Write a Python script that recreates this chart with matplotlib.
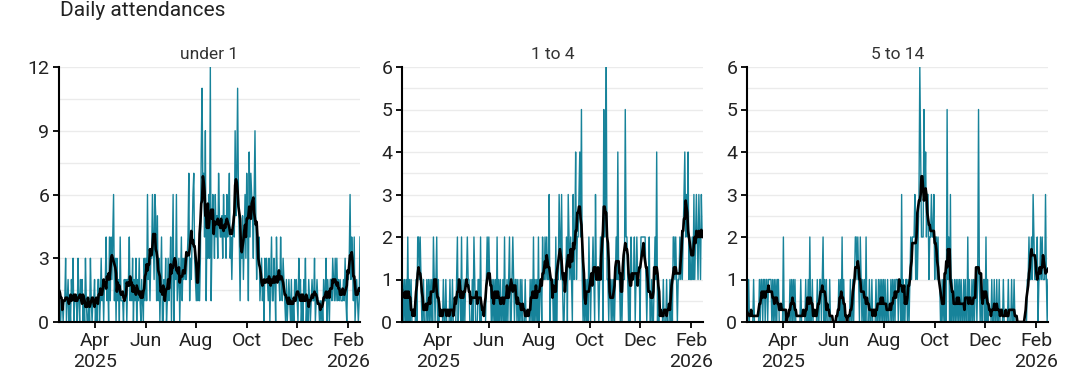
import matplotlib
matplotlib.use("Agg")
import matplotlib.pyplot as plt
import matplotlib.dates as mdates
from matplotlib.ticker import MultipleLocator, FuncFormatter
import pandas as pd

plt.rcParams["font.family"] = ["Roboto", "DejaVu Sans"]

start_date = "2025-02-16"
end_date = "2026-02-15"

# daily attendances, four weeks per row from 16 Feb 2025
under_1 = [
    5, 0, 0, 1, 1, 0, 1, 1, 3, 0, 1, 2, 0, 1, 0, 2, 1, 3, 0, 1, 1, 1, 0, 3, 1, 0, 2, 1,
    2, 0, 1, 0, 3, 1, 0, 0, 1, 0, 3, 1, 0, 1, 1, 2, 0, 1, 0, 2, 2, 0, 1, 3, 1, 2, 0, 2,
    2, 4, 1, 2, 0, 4, 1, 4, 2, 4, 6, 1, 3, 0, 3, 1, 2, 0, 4, 1, 1, 1, 0, 2, 1, 2, 0, 2,
    2, 4, 1, 2, 1, 3, 0, 2, 1, 3, 0, 2, 1, 3, 1, 0, 2, 1, 0, 3, 1, 3, 1, 6, 2, 3, 1, 3,
    3, 6, 4, 2, 6, 5, 1, 5, 1, 3, 0, 2, 4, 0, 0, 2, 1, 3, 0, 1, 3, 1, 2, 4, 0, 3, 6, 0,
    3, 2, 6, 1, 2, 3, 0, 2, 4, 1, 3, 2, 3, 2, 2, 3, 4, 7, 1, 3, 2, 4, 6, 7, 3, 2, 1, 2,
    1, 3, 1, 3, 8, 11, 6, 7, 4, 9, 1, 5, 3, 6, 3, 12, 1, 4, 6, 5, 3, 6, 4, 5, 3, 7, 5, 4,
    4, 5, 3, 6, 4, 5, 3, 6, 4, 5, 7, 3, 4, 2, 4, 5, 4, 9, 5, 7, 11, 6, 4, 1, 4, 3, 5, 2,
    4, 6, 3, 7, 5, 1, 8, 4, 7, 6, 5, 3, 6, 9, 5, 2, 4, 3, 4, 1, 2, 3, 1, 2, 0, 3, 2, 3,
    2, 1, 3, 0, 2, 4, 1, 1, 3, 2, 0, 4, 2, 2, 2, 1, 4, 2, 1, 3, 2, 1, 0, 2, 0, 1, 2, 1,
    0, 2, 0, 1, 0, 2, 1, 2, 1, 0, 3, 1, 2, 0, 1, 0, 2, 1, 3, 0, 1, 0, 2, 1, 0, 1, 2, 1,
    1, 3, 0, 1, 2, 1, 1, 0, 1, 0, 1, 0, 2, 1, 1, 3, 0, 2, 1, 0, 2, 2, 1, 3, 2, 1, 3, 1,
    3, 1, 2, 1, 2, 1, 1, 1, 2, 1, 3, 1, 0, 2, 2, 3, 6, 2, 4, 3, 1, 4, 0, 1, 2, 1, 0, 1,
    4,
]

age_1_4 = [
    1, 1, 0, 1, 0, 1, 0, 2, 0, 1, 0, 1, 0, 0, 0, 0, 0, 1, 0, 2, 2, 1, 2, 1, 0, 0, 1, 0,
    0, 0, 1, 0, 1, 0, 1, 0, 1, 0, 2, 1, 0, 1, 2, 0, 1, 0, 0, 0, 0, 0, 1, 0, 0, 1, 0, 0,
    0, 0, 1, 0, 0, 1, 0, 0, 0, 0, 1, 2, 0, 1, 1, 0, 2, 0, 0, 1, 0, 1, 1, 2, 1, 1, 0, 0,
    0, 1, 0, 2, 1, 0, 0, 0, 1, 1, 0, 2, 0, 0, 0, 0, 0, 0, 1, 2, 1, 2, 1, 1, 0, 1, 0, 1,
    0, 1, 0, 2, 0, 1, 0, 1, 0, 0, 1, 0, 2, 0, 0, 1, 0, 1, 2, 0, 0, 1, 2, 1, 0, 1, 1, 0,
    1, 0, 0, 1, 0, 1, 0, 0, 0, 1, 0, 0, 0, 0, 0, 1, 0, 1, 0, 2, 0, 1, 0, 1, 0, 2, 0, 1,
    1, 0, 2, 1, 1, 2, 1, 2, 1, 1, 3, 0, 1, 1, 1, 0, 1, 0, 2, 0, 1, 1, 3, 2, 1, 3, 1, 0,
    0, 1, 1, 2, 0, 3, 2, 1, 2, 1, 0, 3, 1, 2, 4, 1, 2, 2, 3, 4, 2, 5, 1, 0, 1, 0, 1, 0,
    1, 0, 2, 1, 0, 1, 1, 2, 1, 0, 3, 1, 1, 1, 0, 1, 2, 1, 2, 0, 5, 2, 3, 6, 1, 1, 0, 1,
    1, 0, 1, 0, 1, 0, 1, 2, 1, 4, 1, 1, 0, 1, 0, 1, 1, 1, 5, 2, 2, 1, 0, 1, 0, 2, 1, 1,
    1, 2, 0, 1, 2, 1, 1, 1, 0, 2, 2, 2, 2, 2, 2, 1, 0, 1, 1, 2, 0, 0, 1, 0, 0, 1, 2, 1,
    4, 0, 1, 0, 0, 0, 0, 0, 1, 0, 0, 0, 1, 0, 0, 0, 1, 0, 1, 0, 2, 2, 1, 2, 1, 0, 1, 1,
    2, 1, 2, 1, 2, 3, 4, 2, 3, 2, 4, 1, 2, 1, 1, 2, 1, 3, 1, 2, 3, 2, 1, 3, 2, 1, 3, 2,
    2,
]

age_5_14 = [
    0, 0, 1, 0, 0, 0, 0, 0, 1, 0, 0, 0, 0, 0, 0, 1, 0, 1, 1, 0, 1, 1, 0, 1, 1, 0, 1, 1,
    1, 1, 0, 1, 0, 1, 0, 1, 0, 1, 1, 0, 0, 0, 0, 0, 2, 0, 0, 0, 0, 0, 0, 0, 1, 0, 1, 0,
    1, 0, 1, 0, 0, 0, 0, 0, 0, 1, 0, 0, 0, 0, 0, 1, 0, 0, 1, 0, 2, 0, 0, 1, 0, 0, 0, 0,
    0, 1, 0, 0, 1, 1, 0, 1, 2, 0, 1, 0, 1, 0, 0, 0, 1, 0, 0, 0, 0, 0, 0, 0, 0, 0, 0, 1,
    0, 1, 0, 2, 0, 1, 0, 0, 0, 0, 0, 0, 0, 1, 0, 0, 1, 0, 1, 2, 2, 1, 2, 1, 0, 2, 1, 0,
    1, 0, 1, 0, 2, 0, 0, 0, 1, 0, 0, 1, 0, 0, 0, 0, 1, 0, 0, 1, 0, 1, 0, 1, 0, 1, 0, 1,
    0, 0, 1, 0, 0, 0, 1, 0, 1, 0, 1, 0, 1, 1, 1, 0, 1, 1, 0, 3, 0, 1, 0, 0, 1, 1, 0, 1,
    0, 1, 2, 1, 2, 2, 2, 3, 1, 2, 1, 2, 3, 6, 4, 2, 2, 2, 5, 3, 4, 2, 3, 3, 1, 2, 2, 3,
    2, 2, 3, 1, 2, 2, 1, 2, 1, 1, 0, 0, 1, 0, 1, 0, 1, 0, 5, 1, 2, 0, 3, 0, 1, 0, 0, 1,
    0, 1, 0, 1, 0, 1, 0, 1, 0, 0, 1, 0, 1, 0, 0, 2, 0, 1, 0, 0, 1, 0, 1, 0, 1, 1, 0, 1,
    5, 1, 0, 1, 0, 0, 1, 1, 0, 2, 0, 1, 0, 0, 0, 0, 1, 0, 0, 1, 0, 0, 1, 0, 0, 1, 0, 0,
    0, 0, 1, 0, 0, 0, 0, 0, 1, 0, 0, 0, 1, 0, 0, 1, 0, 0, 0, 0, 0, 0, 0, 0, 0, 0, 0, 0,
    0, 0, 0, 1, 1, 2, 1, 1, 2, 1, 3, 2, 1, 1, 1, 2, 0, 1, 1, 2, 1, 2, 1, 1, 1, 3, 1, 0,
    1,
]

panel_titles = ["under 1", "1 to 4", "5 to 14"]
y_max = [12, 6, 6]
y_major = [3, 1, 1]

teal = "#17839a"
grid_col = "#ebebeb"

dates = pd.date_range(start_date, end_date, freq="D")
series = [under_1, age_1_4, age_5_14]

fig = plt.figure(figsize=(10.8, 3.91), dpi=100)
lefts = [59, 402, 747]
width = 301
bottom = 1 - 322 / 391
height = (322 - 67) / 391


def month_label(x, pos):
    d = mdates.num2date(x)
    if (d.month == 4 and d.year == 2025) or (d.month == 2 and d.year == 2026):
        return d.strftime("%b\n%Y")
    return d.strftime("%b")


for i, vals in enumerate(series):
    ax = fig.add_axes([lefts[i] / 1080, bottom, width / 1080, height])
    s = pd.Series(vals, index=dates)
    avg = s.rolling(7, center=True, min_periods=1).mean()

    ax.plot(s.index, s.values, color=teal, lw=1.0, zorder=2)
    ax.plot(avg.index, avg.values, color="black", lw=1.9, zorder=3)

    ax.set_xlim(dates[0], dates[-1])
    ax.set_ylim(0, y_max[i])
    ax.yaxis.set_major_locator(MultipleLocator(y_major[i]))
    ax.yaxis.set_minor_locator(MultipleLocator(y_major[i] / 2))
    ax.grid(axis="y", which="both", color=grid_col, lw=1, zorder=0)
    ax.tick_params(axis="y", which="minor", length=0)

    ax.xaxis.set_major_locator(mdates.MonthLocator(bymonth=[2, 4, 6, 8, 10, 12]))
    ax.xaxis.set_major_formatter(FuncFormatter(month_label))

    for side in ["top", "right"]:
        ax.spines[side].set_visible(False)
    ax.spines["left"].set_linewidth(1.5)
    ax.spines["bottom"].set_linewidth(1.5)
    ax.tick_params(axis="both", which="major", labelsize=14, length=4.5,
                   width=1.3, colors="black", labelcolor="#222222", pad=2.5)
    ax.set_title(panel_titles[i], fontsize=12.5, color="#333333", pad=6)

fig.text(60 / 1080, 1 - 10 / 391, "Daily attendances", fontsize=15,
         color="#222222", va="center", ha="left")

fig.savefig("out.png", dpi=100)
